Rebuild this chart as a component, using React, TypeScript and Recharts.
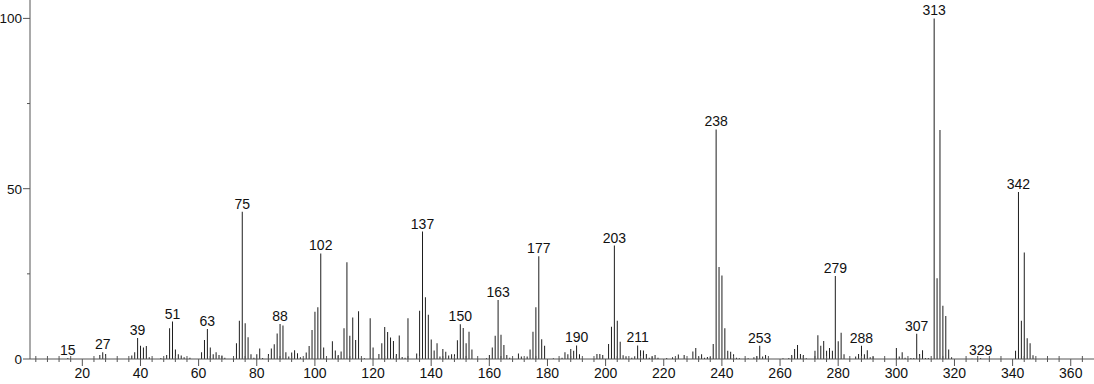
import { Bar, BarChart, LabelList, XAxis, YAxis } from 'recharts';

// m/z of every peak
const masses = [
  15, 26, 27, 28, 37, 38, 39, 40, 41, 42, 43, 47, 49, 50, 51, 52, 53, 54, 55, 57,
  61, 62, 63, 64, 65, 66, 67, 68, 69, 73, 74, 75, 76, 77, 78, 79, 80, 81, 82, 84,
  85, 86, 87, 88, 89, 90, 91, 92, 93, 94, 95, 97, 98, 99, 100, 101, 102, 103, 106, 107,
  108, 109, 110, 111, 112, 113, 114, 115, 117, 119, 120, 122, 123, 124, 125, 126, 127, 128, 129, 130,
  131, 132, 135, 136, 137, 138, 139, 140, 141, 142, 143, 144, 145, 146, 147, 148, 149, 150, 151, 152,
  153, 154, 159, 160, 161, 162, 163, 164, 165, 166, 167, 170, 171, 173, 174, 175, 176, 177, 178, 179,
  182, 185, 186, 187, 188, 189, 190, 191, 197, 198, 199, 201, 202, 203, 204, 205, 206, 207, 209, 210,
  211, 212, 213, 214, 215, 216, 217, 218, 221, 223, 225, 227, 230, 231, 232, 233, 234, 235, 236, 237,
  238, 239, 240, 241, 242, 243, 244, 245, 246, 249, 251, 252, 253, 254, 255, 261, 263, 264, 265, 266,
  267, 268, 269, 272, 273, 274, 275, 276, 277, 278, 279, 280, 281, 282, 286, 287, 288, 289, 290, 291,
  292, 300, 301, 302, 303, 305, 306, 307, 308, 309, 310, 311, 313, 314, 315, 316, 317, 318, 319, 326,
  329, 341, 342, 343, 344, 345, 346, 347,
];

// relative intensity (%) for each mass above
const intensities = [
  0.3, 1.2, 2.0, 1.5, 1.0, 2.0, 6.2, 3.9, 3.4, 3.8, 0.5, 0.3, 1.2, 9.0, 11.0, 2.8, 1.4, 1.0, 0.5, 0.4,
  2.0, 5.6, 8.8, 3.4, 1.4, 2.0, 1.2, 1.0, 0.4, 4.6, 11.2, 43.2, 10.5, 6.4, 1.4, 0.4, 1.4, 3.1, 0.3, 1.5,
  3.1, 4.3, 7.5, 10.3, 9.8, 2.0, 0.7, 1.9, 2.6, 1.7, 0.5, 1.9, 3.8, 8.5, 13.9, 15.2, 31.0, 3.4, 5.2, 2.5,
  1.2, 2.2, 9.0, 28.4, 6.8, 12.2, 5.6, 14.0, 0.2, 12.0, 3.4, 1.5, 4.6, 9.4, 7.9, 6.3, 5.3, 1.5, 6.9, 0.6,
  0.4, 12.0, 1.6, 14.2, 37.4, 18.1, 13.0, 5.7, 2.5, 4.6, 0.7, 2.9, 2.1, 1.0, 1.4, 1.4, 5.5, 10.2, 9.1, 4.6,
  8.0, 2.8, 0.2, 1.2, 3.4, 6.8, 17.3, 7.1, 4.1, 1.2, 0.4, 1.6, 0.7, 0.7, 2.8, 8.0, 15.2, 30.2, 5.8, 3.9,
  0.2, 0.4, 2.0, 1.4, 2.9, 2.4, 4.0, 1.4, 1.5, 1.5, 1.2, 4.4, 9.5, 33.3, 11.2, 5.1, 1.1, 0.8, 0.4, 0.8,
  4.0, 2.6, 2.5, 1.5, 0.4, 0.7, 1.2, 0.4, 0.3, 0.5, 1.3, 1.2, 2.2, 3.2, 0.7, 1.4, 0.4, 0.6, 0.6, 4.4,
  67.4, 27.0, 24.5, 9.0, 2.4, 2.1, 1.4, 0.4, 0.2, 0.2, 0.5, 0.8, 3.9, 0.7, 1.2, 0.2, 0.3, 1.2, 2.9, 4.1,
  1.5, 1.2, 0.2, 2.4, 7.0, 3.9, 5.3, 2.4, 3.2, 2.4, 24.4, 5.2, 7.7, 1.4, 0.7, 1.5, 3.9, 1.4, 2.6, 0.5,
  0.7, 3.2, 0.7, 2.0, 0.4, 0.3, 0.3, 7.4, 1.5, 2.6, 0.3, 0.3, 100, 23.7, 67.2, 15.6, 12.6, 2.8, 0.5, 0.1,
  0.3, 2.4, 49.0, 11.2, 31.3, 6.1, 4.6, 1.1,
];

const labeledMasses = [
  15, 27, 39, 51, 63, 75, 88, 102, 137, 150, 163, 177, 190, 203, 211, 238, 253, 279, 288, 307, 313, 329, 342,
];

const xMajorTicks = [20, 40, 60, 80, 100, 120, 140, 160, 180, 200, 220, 240, 260, 280, 300, 320, 340, 360];
const yTickValues = [0, 25, 50, 75, 100];
const yLabelled = [0, 50, 100];

// minor ticks: 5 divisions between major ticks
const xTicks: number[] = [];
[0, ...xMajorTicks].forEach((t, i, arr) => {
  if (i === 0) return;
  const prev = arr[i - 1];
  for (let k = 0; k < 5; k++) xTicks.push(prev + ((t - prev) * k) / 5);
});
xTicks.push(360, 364);

const data = masses.map((mz, i) => ({
  mz,
  intensity: intensities[i],
  label: labeledMasses.includes(mz) ? String(mz) : '',
}));

const FONT = '"Liberation Sans", Arial, sans-serif';
const AXIS = '#555';

function XTick(props: any) {
  const { x, y, payload } = props;
  const v = payload.value;
  const major = xMajorTicks.includes(v);
  if (v < 2) return <g />;
  return (
    <g>
      <line x1={x} x2={x} y1={major ? y : y - 3} y2={major ? y + 7 : y + 3} stroke={AXIS} />
      {major ? (
        <text x={x} y={y + 19} textAnchor="middle" fontSize={14} fontFamily={FONT} fill="#111">
          {v}
        </text>
      ) : null}
    </g>
  );
}

function YTick(props: any) {
  const { x, y, payload } = props;
  const v = payload.value;
  const major = yLabelled.includes(v);
  return (
    <g>
      <line x1={major ? x - 7 : x - 3} x2={x} y1={y} y2={y} stroke={AXIS} />
      {major ? (
        <text x={x - 8} y={y + 5} textAnchor="end" fontSize={13.5} fontFamily={FONT} fill="#111">
          {v}
        </text>
      ) : null}
    </g>
  );
}

function PeakLabel(props: any) {
  const vb = props.viewBox || props;
  const value = props.value;
  if (!value) return null;
  const x = (vb.x ?? props.x) + (vb.width ?? props.width ?? 0) / 2;
  const y = vb.y ?? props.y;
  return (
    <text x={x} y={y - 3} textAnchor="middle" fontSize={14} fontFamily={FONT} fill="#111">
      {value}
    </text>
  );
}

export default function App() {
  return (
    <div style={{ position: 'absolute', left: 0, top: 0, width: 1094, height: 384, background: '#fff' }}>
      <BarChart width={1094} height={384} data={data} margin={{ top: 0, right: 0, bottom: 0, left: 0 }} barSize={1}>
        <XAxis
          dataKey="mz"
          type="number"
          domain={[2, 368]}
          allowDataOverflow
          ticks={xTicks}
          interval={0}
          height={25}
          tickSize={0}
          tickMargin={0}
          tickLine={false}
          axisLine={{ stroke: AXIS }}
          tick={(p: any) => <XTick {...p} />}
        />
        <YAxis
          type="number"
          domain={[0, 105.4]}
          allowDataOverflow
          ticks={yTickValues}
          interval={0}
          width={30}
          tickSize={0}
          tickMargin={0}
          tickLine={false}
          axisLine={{ stroke: AXIS }}
          tick={(p: any) => <YTick {...p} />}
        />
        <Bar dataKey="intensity" fill="#1e1e1e" isAnimationActive={false}>
          <LabelList dataKey="label" content={(p: any) => <PeakLabel {...p} />} />
        </Bar>
      </BarChart>
    </div>
  );
}
